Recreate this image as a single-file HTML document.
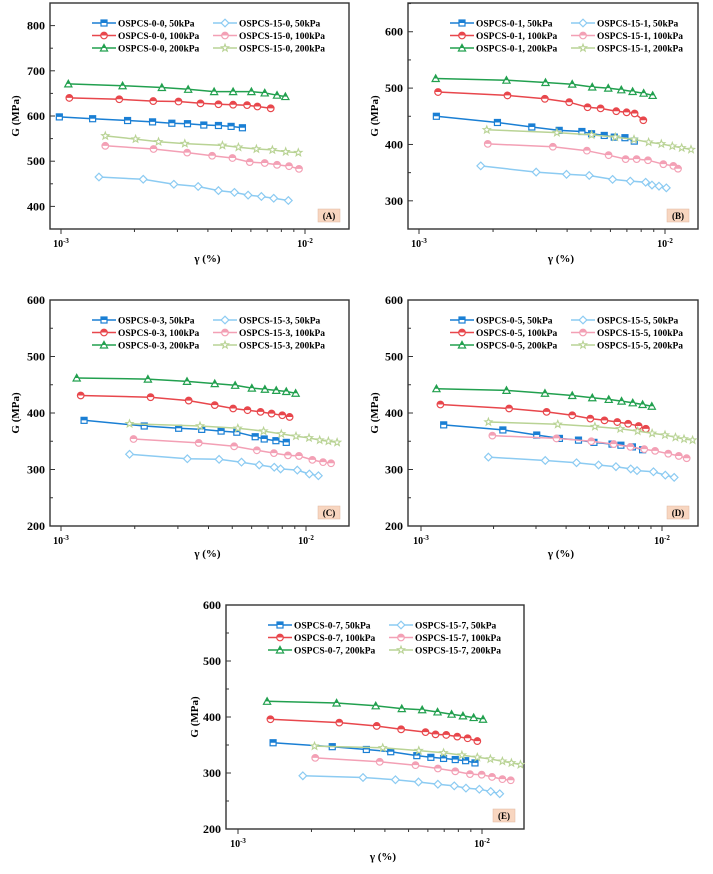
<!DOCTYPE html><html><head><meta charset="utf-8"><style>body{margin:0;background:#fff}svg{display:block}text{font-family:"Liberation Serif",serif;font-weight:bold}</style></head><body>
<svg id="s" width="713" height="874" xmlns="http://www.w3.org/2000/svg"></svg>
<script>
const C=['#1a7fd4','#e8474c','#22a04f','#8ccbf2','#f3a0b5','#b9d395'];
const P=[
{l:50,t:3,r:349,b:229,y0:350,y1:850,ticks:[400,500,600,700,800],x0:61,xd:244,z0:183,zd:733,id:'0',lab:'(A)',yl:15,xl:262,
d:[[[178,278,383,458,516,563,612,656,694,728],[598,594,590,587,584,583,580,579,577,574]],
[[208,358,460,536,602,656,700,742,773,813],[640,637,633,632,628,626,625,624,621,617]],
[[205,368,486,565,643,700,755,795,832,857],[671,667,663,659,654,654,654,651,646,643]],
[[297,430,522,595,656,704,745,785,822,866],[465,460,449,444,435,431,425,422,418,413]],
[[316,461,562,637,698,750,795,832,868,898],[534,527,519,512,507,498,496,492,489,483]],
[[316,407,476,555,668,716,770,818,858,896],[556,549,543,539,535,531,527,525,521,519]]]},
{l:408,t:3,r:698,b:229,y0:250,y1:651,ticks:[300,400,500,600],x0:419,xd:246,z0:178,zd:737,id:'1',lab:'(B)',yl:374,xl:262,
d:[[[230,413,516,598,666,695,733,763,795,823],[450,439,431,425,423,419,416,413,412,406]],
[[235,443,555,628,683,722,769,800,824,850],[493,487,481,475,466,464,459,457,455,443]],
[[228,440,557,637,697,745,784,818,851,878],[517,514,510,507,502,500,497,494,491,487]],
[[363,529,620,688,758,811,857,876,897,919],[362,351,347,345,338,335,333,328,326,323]],
[[384,579,681,746,797,830,864,910,940,954],[401,396,389,381,374,374,372,365,362,357]],
[[381,591,695,766,822,866,904,937,965,993],[426,421,417,413,409,404,401,397,394,391]]]},
{l:50,t:300,r:349,b:526,y0:200,y1:600,ticks:[200,300,400,500,600],x0:61,xd:245,z0:183,zd:733,id:'3',lab:'(C)',yl:15,xl:557,
d:[[[252,432,535,604,662,709,764,791,826,857],[387,377,373,371,368,366,358,354,351,348]],
[[242,451,565,643,698,741,780,813,845,867],[431,428,422,414,408,405,402,399,396,393]],
[[230,443,560,643,704,754,793,827,857,885],[462,460,456,452,449,444,442,440,438,435]],
[[388,561,656,723,776,821,840,890,926,953],[327,319,318,313,308,304,301,299,292,289]],
[[400,595,701,769,820,862,895,935,967,991],[354,347,341,334,329,325,324,317,313,311]],
[[388,599,712,789,842,886,925,957,983,1009],[381,377,373,368,363,359,356,352,350,348]]]},
{l:408,t:300,r:698,b:526,y0:200,y1:600,ticks:[200,300,400,500,600],x0:421,xd:241,z0:183,zd:733,id:'5',lab:'(D)',yl:374,xl:557,
d:[[[252,432,535,604,662,709,764,791,826,857],[379,370,361,355,352,348,345,343,340,335]],
[[242,451,565,643,698,741,780,813,845,867],[415,408,402,396,390,387,384,381,377,372]],
[[230,443,560,643,704,754,793,827,857,885],[443,440,435,431,427,424,421,418,415,412]],
[[388,561,656,723,776,821,840,890,926,953],[322,316,312,308,305,301,298,296,290,286]],
[[400,595,701,769,820,862,895,935,967,991],[360,355,350,345,340,336,333,328,324,320]],
[[388,599,712,789,842,886,925,957,983,1009],[384,380,376,372,368,364,361,357,354,352]]]},
{l:226,t:605,r:524,b:829,y0:200,y1:600,ticks:[200,300,400,500,600],x0:238,xd:244,z0:175,zd:730,id:'7',lab:'(E)',yl:194,xl:860,
d:[[[280,457,559,632,710,752,790,825,856,884],[354,347,342,338,331,328,326,324,322,318]],
[[272,478,590,663,736,766,798,831,862,891],[396,390,384,378,373,369,368,365,362,357]],
[[262,470,587,665,726,772,814,848,880,908],[428,425,420,415,413,409,405,402,399,396]],
[[369,549,646,715,773,822,857,897,931,958],[295,292,288,284,280,277,273,271,267,263]],
[[406,599,706,773,825,869,904,935,966,991],[327,320,314,308,303,298,297,293,289,287]],
[[404,608,716,790,845,891,930,966,993,1020],[348,345,340,336,332,328,325,321,318,315]]]}];
let h='';
function mk(k,x,y){const c=C[k];let s='';
if(k==0)s=`<rect x="${x-3}" y="${y-3}" width="6" height="6" fill="#fff" stroke="${c}" stroke-width="1.2"/><rect x="${x-3}" y="${y-3}" width="6" height="3" fill="${c}"/>`;
else if(k==1||k==4)s=`<circle cx="${x}" cy="${y}" r="3.3" fill="#fff" stroke="${c}" stroke-width="1.2"/><path d="M${x-3.3},${y}A3.3,3.3 0 0 1 ${x+3.3},${y}Z" fill="${c}"/>`;
else if(k==2)s=`<path d="M${x},${y-3.6}L${x+3.6},${y+3}L${x-3.6},${y+3}Z" fill="#fff" stroke="${c}" stroke-width="1.2"/><path d="M${x},${y-3.6}L${x+1.9},${y}L${x-1.9},${y}Z" fill="${c}"/>`;
else if(k==3)s=`<path d="M${x},${y-3.8}L${x+3.8},${y}L${x},${y+3.8}L${x-3.8},${y}Z" fill="#fff" stroke="${c}" stroke-width="1.2"/>`;
else{let p=[];for(let i=0;i<10;i++){const r=i%2?1.6:3.8,a=-Math.PI/2+i*Math.PI/5;p.push((x+r*Math.cos(a)).toFixed(1)+','+(y+r*Math.sin(a)).toFixed(1))}s=`<polygon points="${p.join(' ')}" fill="#fff" stroke="${c}" stroke-width="1.1"/>`}
return s}
for(const p of P){
const Y=v=>p.b-(v-p.y0)/(p.y1-p.y0)*(p.b-p.t);
const X=g=>p.x0+g*p.xd;
h+=`<rect x="${p.l}" y="${p.t}" width="${p.r-p.l}" height="${p.b-p.t}" fill="none" stroke="#333" stroke-width="1.4"/>`;
for(let v=p.y0;v<=p.y1;v+=50){const y=Y(v);if(y<p.t-0.5)continue;const maj=p.ticks.includes(v);h+=`<line x1="${p.l}" x2="${p.l+(maj?5:3)}" y1="${y}" y2="${y}" stroke="#333"/>`;if(maj)h+=`<text x="${p.l-5}" y="${y+4}" font-size="12" text-anchor="end">${v}</text>`}
for(let d=0;d<2;d++)for(let m=1;m<10;m++){const x=X(d+Math.log10(m));if(x<p.l||x>p.r)continue;h+=`<line x1="${x}" x2="${x}" y1="${p.b}" y2="${p.b+(m==1?5:3)}" stroke="#333"/>`;}
h+=`<text x="${X(0)}" y="${p.b+18}" font-size="10" text-anchor="middle">10<tspan font-size="7" dy="-4">-3</tspan></text>`;
h+=`<text x="${X(1)}" y="${p.b+18}" font-size="10" text-anchor="middle">10<tspan font-size="7" dy="-4">-2</tspan></text>`;
h+=`<text x="${(p.l+p.r)/2+8}" y="${p.xl}" font-size="11" text-anchor="middle">γ (%)</text>`;
h+=`<text transform="translate(${p.yl+4},${(p.t+p.b)/2}) rotate(-90)" font-size="11" text-anchor="middle">G (MPa)</text>`;
h+=`<rect x="${p.r-31}" y="${p.b-20}" width="22" height="13" fill="#f8d6c0" stroke="#e0b8a0" stroke-width="0.5"/><text x="${p.r-20}" y="${p.b-10}" font-size="9" text-anchor="middle">${p.lab}</text>`;
p.d.forEach((s,k)=>{const pts=s[0].map((zx,i)=>[X((zx-p.z0)/p.zd),Y(s[1][i])]);
h+=`<polyline points="${pts.map(q=>q[0].toFixed(1)+','+q[1].toFixed(1)).join(' ')}" fill="none" stroke="${C[k]}" stroke-width="1.5"/>`;
pts.forEach(q=>h+=mk(k,q[0],q[1]));
const col=k<3?0:1,row=k%3,lx=p.l+42+col*121,ly=p.t+20+row*12.5;
h+=`<line x1="${lx}" x2="${lx+24}" y1="${ly}" y2="${ly}" stroke="${C[k]}" stroke-width="1.5"/>`+mk(k,lx+12,ly);
const nm=(k<3?'OSPCS-0-':'OSPCS-15-')+p.id+', '+['50','100','200'][row]+'kPa';
h+=`<text x="${lx+26}" y="${ly+3.5}" font-size="9.5">${nm}</text>`;});
}
document.getElementById('s').innerHTML=h;
</script></body></html>
